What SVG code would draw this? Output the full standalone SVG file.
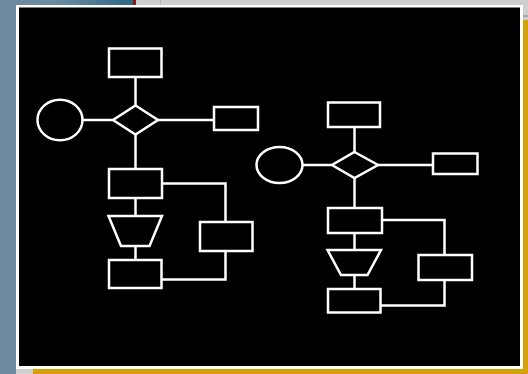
<svg xmlns="http://www.w3.org/2000/svg" width="528" height="374" viewBox="0 0 528 374">
  <defs>
    <linearGradient id="topGrad" x1="0" y1="0" x2="1" y2="0">
      <stop offset="0" stop-color="#6f8ba0"/>
      <stop offset="0.45" stop-color="#6a8aa0"/>
      <stop offset="1" stop-color="#2c6784"/>
    </linearGradient>
    <style>
      .shape { fill: none; stroke: #ffffff; stroke-width: 2.5; }
      .link { fill: none; stroke: #ffffff; stroke-width: 2.5; }
    </style>
  </defs>

  <!-- surrounding desktop backdrop -->
  <rect x="0" y="0" width="528" height="374" fill="#cfcfcf"/>
  <rect x="0" y="0" width="16" height="374" fill="#6e8aa0"/>
  <rect x="0" y="0" width="133" height="5" fill="url(#topGrad)"/>
  <rect x="133" y="0" width="3" height="5" fill="#8a1a1a"/>
  <rect x="160" y="0" width="1" height="5" fill="#b8b8b8"/>
  <rect x="523" y="15" width="5" height="2" fill="#a8a8a8"/>
  <rect x="523" y="20" width="5" height="354" fill="#d4a00c"/>
  <rect x="33" y="369" width="495" height="5" fill="#d4a00c"/>

  <!-- slide frame -->
  <rect x="16" y="5" width="507" height="364" fill="#ffffff"/>
  <rect x="19" y="7.5" width="501" height="358.5" fill="#000000"/>

  <!-- connectors -->
  <g id="connectors">
    <!-- left flowchart -->
    <line class="link" x1="135.5" y1="77" x2="135.5" y2="105.5"/>
    <line class="link" x1="82.5" y1="120" x2="113" y2="120"/>
    <line class="link" x1="158" y1="120" x2="214" y2="120"/>
    <line class="link" x1="135.5" y1="134.5" x2="135.5" y2="169"/>
    <line class="link" x1="135.5" y1="198" x2="135.5" y2="216"/>
    <line class="link" x1="135.5" y1="246" x2="135.5" y2="260"/>
    <polyline class="link" points="162,183.5 225.5,183.5 225.5,222"/>
    <polyline class="link" points="225.5,251 225.5,279.5 162,279.5"/>
    <!-- right flowchart -->
    <line class="link" x1="354.5" y1="127" x2="354.5" y2="152"/>
    <line class="link" x1="302.5" y1="165" x2="332" y2="165"/>
    <line class="link" x1="378" y1="165" x2="433" y2="165"/>
    <line class="link" x1="354.5" y1="178" x2="354.5" y2="208"/>
    <line class="link" x1="354.5" y1="233" x2="354.5" y2="250"/>
    <line class="link" x1="354.5" y1="275" x2="354.5" y2="289"/>
    <polyline class="link" points="382,220 444.5,220 444.5,255"/>
    <polyline class="link" points="444.5,280 444.5,305.5 381,305.5"/>
  </g>

  <!-- left flowchart nodes -->
  <g id="l-top"><rect class="shape" x="109" y="48.5" width="52.5" height="28.5"/></g>
  <g id="l-start"><ellipse class="shape" cx="60" cy="120" rx="22.5" ry="20.3"/></g>
  <g id="l-decision"><polygon class="shape" points="135.5,105.5 158,120 135.5,134.5 113,120"/></g>
  <g id="l-side"><rect class="shape" x="214" y="107" width="44" height="23"/></g>
  <g id="l-step1"><rect class="shape" x="109" y="169" width="53" height="29"/></g>
  <g id="l-merge"><polygon class="shape" points="108.5,216 162,216 149.5,246 121,246"/></g>
  <g id="l-branch"><rect class="shape" x="200" y="222" width="52.5" height="29"/></g>
  <g id="l-step2"><rect class="shape" x="109" y="260" width="52.5" height="28"/></g>

  <!-- right flowchart nodes -->
  <g id="r-top"><rect class="shape" x="328" y="102.5" width="52" height="24.5"/></g>
  <g id="r-start"><ellipse class="shape" cx="279.5" cy="165" rx="23" ry="18"/></g>
  <g id="r-decision"><polygon class="shape" points="354.5,152 378,165 354.5,178 332,165"/></g>
  <g id="r-side"><rect class="shape" x="433" y="153.5" width="44.5" height="20.5"/></g>
  <g id="r-step1"><rect class="shape" x="328" y="208" width="54" height="25"/></g>
  <g id="r-merge"><polygon class="shape" points="327.5,250 381,250 367.5,275 341,275"/></g>
  <g id="r-branch"><rect class="shape" x="418.5" y="255" width="53.5" height="25"/></g>
  <g id="r-step2"><rect class="shape" x="328" y="289" width="52.5" height="23.5"/></g>
</svg>
